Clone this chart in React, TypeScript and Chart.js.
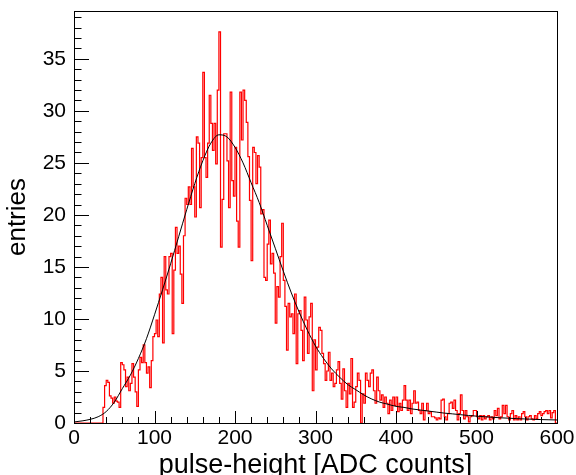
import { useEffect, useRef } from 'react';
import { Chart, registerables } from 'chart.js';

Chart.register(...registerables);

// Histogram: bins of width 2 ADC counts from 0 to 600 (300 bins)
const X_MIN = 0;
const X_MAX = 600;
const BIN_WIDTH = 2;
const Y_MAX = 39.6;

const COUNTS: number[] = [
  0, 0, 0, 0, 0, 0, 0, 0, 0, 0,
  0, 0, 0, 0, 0, 0, 0, 0, 1.5, 3.6,
  4.1, 3.9, 2.6, 2.4, 1.9, 2.5, 2.1, 2.0, 1.5, 5.8,
  5.6, 5.1, 3.5, 4.4, 3.1, 3.8, 5.7, 4.4, 3.0, 1.6,
  5.1, 6.3, 5.8, 7.5, 5.8, 4.8, 5.4, 3.4, 6.0, 8.3,
  8.6, 9.9, 8.3, 12.4, 14.0, 7.7, 16.0, 12.8, 12.4, 16.0,
  16.3, 8.6, 14.7, 18.8, 16.3, 17.0, 14.3, 11.5, 18.0, 21.6,
  21.0, 22.7, 21.0, 26.4, 22.7, 19.8, 27.5, 26.9, 20.7, 25.5,
  33.7, 25.5, 23.6, 26.9, 31.5, 28.8, 26.2, 28.8, 24.9, 32.0,
  37.6, 16.9, 21.5, 27.8, 27.8, 25.2, 20.7, 31.8, 23.3, 21.8,
  26.5, 19.4, 16.9, 31.8, 27.2, 32.0, 31.0, 28.9, 25.6, 21.4,
  15.6, 26.5, 26.0, 23.0, 25.7, 24.6, 20.1, 20.5, 14.0, 13.7,
  17.2, 19.5, 15.3, 16.3, 14.4, 9.6, 13.1, 12.1, 16.0, 19.2,
  13.7, 11.2, 7.0, 11.5, 10.2, 10.5, 8.6, 12.4, 5.7, 10.5,
  10.8, 8.9, 6.0, 12.1, 9.9, 6.7, 10.2, 11.5, 3.1, 8.0,
  5.1, 7.3, 9.2, 8.9, 6.7, 5.7, 4.1, 5.0, 6.8, 4.1,
  4.8, 3.5, 3.8, 5.1, 5.9, 3.8, 2.3, 5.2, 3.1, 1.5,
  3.8, 2.8, 6.2, 1.5, 2.0, 3.5, 4.8, 4.1, 0.0, 2.8,
  1.9, 4.8, 4.1, 3.5, 4.8, 5.1, 3.1, 1.9, 4.4, 3.1,
  2.2, 2.7, 1.5, 2.5, 1.9, 0.9, 2.2, 1.2, 2.5, 1.7,
  2.5, 1.1, 1.9, 1.2, 2.2, 3.6, 2.2, 1.2, 2.2, 0.9,
  1.9, 3.1, 1.9, 2.0, 1.2, 0.9, 1.9, 0.3, 1.2, 1.9,
  0.9, 1.1, 0.6, 0.6, 0.5, 0.3, 0.5, 0.4, 2.2, 2.3,
  0.6, 0.3, 0.9, 1.9, 2.0, 1.4, 2.2, 1.2, 0.3, 0.9,
  2.7, 1.2, 0.4, 1.2, 0.6, 0.1, 0.6, 0.7, 1.2, 1.2,
  0.6, 0.4, 0.7, 0.3, 0.7, 0.4, 0.6, 0.7, 0.3, 0.6,
  0.4, 1.2, 0.7, 1.4, 0.4, 0.6, 1.7, 0.9, 1.7, 0.6,
  0.3, 0.9, 1.2, 0.3, 0.7, 0.3, 0.6, 0.3, 0.9, 1.1,
  0.6, 0.3, 0.6, 0.7, 0.4, 0.3, 0.7, 0.4, 0.9, 1.1,
  0.7, 0.9, 1.1, 1.2, 0.9, 1.2, 0.5, 1.0, 1.2, 0.0,
];

// Fit curve sampled every 10 ADC counts
const FIT_X: number[] = [
  0, 10, 20, 30, 40, 50, 60, 70, 80, 90,
  100, 110, 120, 130, 140, 150, 160, 170, 180, 190,
  200, 210, 220, 230, 240, 250, 260, 270, 280, 290,
  300, 310, 320, 330, 340, 350, 360, 370, 380, 390,
  400, 410, 420, 430, 440, 450, 460, 470, 480, 490,
  500, 510, 520, 530, 540, 550, 560, 570, 580, 590, 600,
];
const FIT_Y: number[] = [
  0.1, 0.2, 0.35, 0.6, 1.1, 2.0, 3.3, 4.6, 6.2, 8.1,
  10.4, 12.8, 15.3, 17.9, 20.5, 23.0, 25.2, 26.9, 27.7, 27.5,
  26.5, 25.0, 23.1, 21.2, 19.0, 16.8, 14.6, 12.5, 10.6, 8.9,
  7.4, 6.2, 5.2, 4.4, 3.7, 3.2, 2.7, 2.3, 2.0, 1.8,
  1.6, 1.5, 1.35, 1.25, 1.15, 1.05, 0.95, 0.88, 0.8, 0.72,
  0.66, 0.6, 0.55, 0.5, 0.46, 0.42, 0.39, 0.36, 0.33, 0.31, 0.29,
];

const X_TICKS: number[] = [0, 100, 200, 300, 400, 500, 600];
const Y_TICKS: number[] = [0, 5, 10, 15, 20, 25, 30, 35];
const X_MINOR_STEP = 20;
const Y_MINOR_STEP = 1;

const X_TITLE = 'pulse-height [ADC counts]';
const Y_TITLE = 'entries';

const FONT = "'Liberation Sans', Arial, Helvetica, sans-serif";

const rootFrame = {
  id: 'rootFrame',
  afterDraw(chart: any) {
    const { ctx, chartArea: a, scales } = chart;
    const x = scales.x;
    const y = scales.y;
    ctx.save();
    ctx.strokeStyle = '#000';
    ctx.lineWidth = 1;
    ctx.beginPath();
    const nx = Math.round((X_MAX - X_MIN) / X_MINOR_STEP);
    for (let i = 0; i <= nx; i++) {
      const v = X_MIN + i * X_MINOR_STEP;
      const px = Math.round(x.getPixelForValue(v)) + 0.5;
      const len = X_TICKS.includes(v) ? 12 : 6;
      ctx.moveTo(px, a.bottom);
      ctx.lineTo(px, a.bottom - len);
    }
    const ny = Math.floor(Y_MAX / Y_MINOR_STEP);
    for (let i = 0; i <= ny; i++) {
      const v = i * Y_MINOR_STEP;
      const py = Math.round(y.getPixelForValue(v)) + 0.5;
      const len = Y_TICKS.includes(v) ? 15 : 7.5;
      ctx.moveTo(a.left, py);
      ctx.lineTo(a.left + len, py);
    }
    ctx.stroke();
    ctx.strokeRect(Math.round(a.left) + 0.5, Math.round(a.top) + 0.5,
      Math.round(a.right - a.left), Math.round(a.bottom - a.top));
    ctx.restore();
  },
};

export default function App() {
  const ref = useRef<HTMLCanvasElement | null>(null);

  useEffect(() => {
    if (!ref.current) return;
    const histData = COUNTS.map((v, i) => ({ x: X_MIN + i * BIN_WIDTH, y: v }));
    histData.push({ x: X_MAX, y: COUNTS[COUNTS.length - 1] });
    const fitData = FIT_X.map((x, i) => ({ x, y: FIT_Y[i] }));

    const chart = new Chart(ref.current, {
      type: 'line',
      data: {
        datasets: [
          {
            label: 'fit',
            data: fitData,
            borderColor: '#000000',
            borderWidth: 1,
            pointRadius: 0,
            cubicInterpolationMode: 'monotone',
            fill: false,
          },
          {
            label: 'histogram',
            data: histData,
            borderColor: '#ff0000',
            borderWidth: 1.2,
            pointRadius: 0,
            stepped: 'before',
            fill: false,
          },
        ],
      },
      options: {
        animation: false,
        responsive: false,
        devicePixelRatio: 1,
        layout: { padding: { left: 0, right: 19, top: 11, bottom: 0 } },
        plugins: {
          legend: { display: false },
          tooltip: { enabled: false },
        },
        scales: {
          x: {
            type: 'linear',
            min: X_MIN,
            max: X_MAX,
            grid: { display: false, drawTicks: false },
            border: { display: false },
            afterBuildTicks: (s: any) => { s.ticks = X_TICKS.map((v) => ({ value: v })); },
            afterFit: (s: any) => {
              s.height = 52;
              s.paddingLeft = 0;
              s.paddingRight = 0;
              s.paddingTop = 0;
              s.paddingBottom = 0;
            },
            ticks: {
              color: '#000',
              padding: 3,
              maxRotation: 0,
              autoSkip: false,
              font: { family: FONT, size: 21 },
            },
            title: {
              display: true,
              text: X_TITLE,
              color: '#000',
              font: { family: FONT, size: 27, lineHeight: 0.7 },
              padding: { top: 0, bottom: 0 },
            },
          },
          y: {
            type: 'linear',
            min: 0,
            max: Y_MAX,
            grid: { display: false, drawTicks: false },
            border: { display: false },
            afterBuildTicks: (s: any) => { s.ticks = Y_TICKS.map((v) => ({ value: v })); },
            afterFit: (s: any) => {
              s.width = 74;
              s.paddingTop = 0;
              s.paddingBottom = 0;
              s.paddingLeft = 0;
              s.paddingRight = 0;
            },
            ticks: {
              color: '#000',
              padding: 8,
              autoSkip: false,
              font: { family: FONT, size: 21 },
            },
            title: {
              display: true,
              text: Y_TITLE,
              color: '#000',
              font: { family: FONT, size: 26, lineHeight: 1 },
              padding: { top: 5, bottom: 0 },
            },
          },
        },
      },
      plugins: [rootFrame],
    } as any);

    return () => chart.destroy();
  }, []);

  return (
    <div style={{ position: 'absolute', left: 0, top: 0, width: 576, height: 475, background: '#fff' }}>
      <canvas ref={ref} width={576} height={475} style={{ display: 'block' }} />
    </div>
  );
}
